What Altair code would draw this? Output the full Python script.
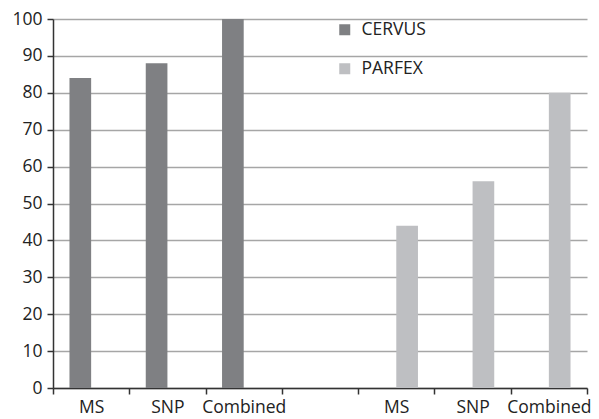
import altair as alt
import pandas as pd

slots = ["1MS", "2SNP", "3Combined", "4", "5MS", "6SNP", "7Combined"]
bar_slots = ["1MS", "2SNP", "3Combined", "5MS", "6SNP", "7Combined"]
methods = ["CERVUS", "CERVUS", "CERVUS", "PARFEX", "PARFEX", "PARFEX"]
values = [84, 88, 100, 44, 56, 80]
colors = ["#7f8083", "#bebfc2"]

df = pd.DataFrame({"slot": bar_slots, "method": methods, "value": values})

FONT = "Open Sans"
FS = 17.5

chart = alt.Chart(df).mark_bar().encode(
    x=alt.X("slot:N", scale=alt.Scale(domain=slots, paddingInner=0, paddingOuter=0),
            axis=alt.Axis(title=None, labelAngle=0, labelExpr="substring(datum.label, 1)",
                          tickBand="extent", tickSize=6, tickColor="#333333", tickWidth=1.5,
                          domainColor="#333333", domainWidth=1.5, labelPadding=4,
                          labelFontSize=FS, labelColor="#222222", labelFont=FONT, grid=False)),
    xOffset=alt.XOffset("method:N", scale=alt.Scale(domain=["CERVUS", "PARFEX"], paddingInner=0, paddingOuter=0.76)),
    y=alt.Y("value:Q", scale=alt.Scale(domain=[0, 100], nice=False),
            axis=alt.Axis(title=None, values=list(range(0, 101, 10)), tickSize=6,
                          tickColor="#333333", tickWidth=1.5, domainColor="#333333",
                          domainWidth=1.5, labelPadding=5, labelFontSize=FS,
                          labelColor="#222222", labelFont=FONT, grid=True,
                          gridColor="#a6a6a6", gridWidth=1.5)),
    color=alt.Color("method:N", scale=alt.Scale(domain=["CERVUS", "PARFEX"], range=colors),
                    legend=alt.Legend(title=None, orient="none", legendX=283, legendY=2,
                                      symbolType="square", symbolSize=121, symbolStrokeWidth=0,
                                      labelFontSize=FS, labelFont=FONT, labelColor="#222222",
                                      rowPadding=20, labelOffset=8)),
).properties(
    width=534, height=369,
    autosize=alt.AutoSizeParams(type="none"),
    padding={"left": 45, "top": 11, "right": 4, "bottom": 28},
).configure_view(stroke=None)

chart.save("out.html", embed_options={"renderer": "svg", "actions": False})
